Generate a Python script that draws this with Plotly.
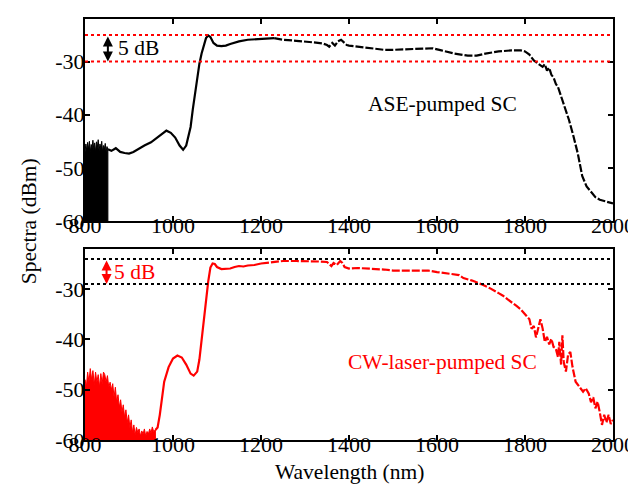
import plotly.graph_objects as go

# ---------------- data ----------------
# ASE-pumped SC: noisy low-wavelength region (upper envelope, filled down to floor)
ase_noise_wl = [800, 802, 804, 806, 808, 810, 812, 814, 816, 818, 820, 822, 824, 826, 828,
                830, 832, 834, 836, 838, 840, 842, 844, 846, 848, 850, 852]
ase_noise_db = [-47.0, -45.5, -46.8, -45.2, -46.5, -45.0, -47.0, -45.6, -46.2, -44.8, -46.6,
                -45.3, -47.0, -45.1, -46.2, -44.7, -46.8, -45.5, -46.3, -45.0, -47.0, -45.8,
                -46.5, -45.4, -46.9, -46.0, -46.6]

ase_wl = [852, 860, 870, 880, 890, 900, 910, 920, 935, 950, 965, 975, 985, 995, 1005, 1015,
          1023, 1030, 1040, 1045, 1050, 1055, 1060, 1065, 1070, 1075, 1080, 1085, 1092, 1100,
          1110, 1120, 1130, 1150, 1170, 1200, 1220, 1230, 1250, 1280, 1300, 1320, 1340, 1350,
          1355, 1362, 1368, 1375, 1382, 1388, 1395, 1400, 1420, 1450, 1480, 1500, 1530, 1560,
          1590, 1610, 1640, 1670, 1690, 1710, 1740, 1770, 1790, 1800, 1810, 1820, 1830, 1840,
          1845, 1850, 1855, 1860, 1865, 1870, 1875, 1880, 1890, 1900, 1910, 1920, 1930, 1940,
          1950, 1960, 1970, 1985, 2000]
ase_db = [-46.5, -46.8, -46.3, -47.0, -47.2, -47.3, -47.0, -46.5, -45.8, -45.2, -44.2, -43.5,
          -43.0, -43.4, -44.3, -45.8, -46.6, -45.8, -42.3, -39.0, -36.0, -33.0, -30.4, -28.5,
          -27.0, -25.6, -25.1, -25.4, -26.5, -27.0, -27.1, -27.0, -26.7, -26.2, -25.9, -25.7,
          -25.7, -25.6, -25.9, -26.1, -26.2, -26.4, -26.6, -26.9, -27.2, -26.5, -27.0, -26.2,
          -25.9, -26.4, -26.9, -27.0, -27.2, -27.6, -27.8, -27.8, -27.7, -27.6, -27.5, -27.9,
          -28.5, -28.9, -28.9, -28.5, -28.1, -27.9, -27.9, -28.1, -28.7, -29.8, -30.4, -31.0,
          -30.5, -31.7, -31.2, -32.5, -33.0, -34.2, -34.8, -36.0, -38.5, -41.0, -44.0, -47.3,
          -51.5, -53.5, -54.5, -55.5, -56.0, -56.4, -56.7]

# CW-laser-pumped SC
cw_noise_wl = [800, 803, 806, 809, 812, 815, 818, 821, 824, 827, 830, 833, 836, 839, 842, 845,
               848, 851, 854, 857, 860, 863, 866, 869, 872, 875, 878, 881, 884, 887, 890, 893,
               896, 899, 902, 905, 908, 911, 914, 917, 920, 923, 926, 929, 932, 935, 938, 941,
               944, 947, 950, 953, 956, 960]
cw_noise_db = [-48.0, -49.5, -46.5, -48.5, -45.8, -48.0, -46.2, -49.0, -46.5, -48.5, -47.0,
               -49.5, -46.8, -48.8, -46.5, -47.0, -48.5, -47.2, -49.5, -48.5, -50.0, -48.8,
               -51.5, -49.5, -52.5, -51.0, -53.5, -52.0, -54.5, -53.0, -55.5, -54.0, -56.5,
               -55.0, -57.5, -56.0, -58.5, -57.0, -59.0, -57.5, -58.5, -57.8, -59.2, -58.2,
               -58.8, -57.8, -59.2, -58.3, -58.8, -57.8, -58.6, -57.4, -58.3, -58.0]

cw_wl = [960, 965, 970, 975, 980, 990, 1000, 1010, 1020, 1030, 1040, 1047, 1055, 1060, 1065,
         1070, 1075, 1080, 1085, 1090, 1095, 1100, 1110, 1120, 1130, 1140, 1150, 1160, 1170,
         1185, 1200, 1220, 1250, 1280, 1300, 1330, 1350, 1360, 1365, 1372, 1380, 1385, 1390,
         1400, 1420, 1450, 1480, 1500, 1530, 1560, 1580, 1600, 1620, 1640, 1650, 1660, 1680,
         1700, 1720, 1740, 1750, 1760, 1770, 1780, 1790, 1800, 1810, 1815, 1820, 1825, 1830,
         1835, 1840, 1845, 1850, 1855, 1860, 1865, 1870, 1875, 1878, 1882, 1885, 1888, 1893,
         1898, 1903, 1908, 1915, 1925, 1932, 1938, 1945, 1950, 1955, 1960, 1965, 1970, 1975,
         1980, 1985, 1990, 1995, 2000]
cw_db = [-58.0, -57.5, -55.0, -51.5, -48.4, -45.5, -43.8, -43.2, -43.6, -45.0, -46.8, -47.2,
         -46.4, -44.0, -39.9, -36.0, -32.0, -28.5, -25.7, -24.9, -25.0, -25.6, -26.0, -26.0,
         -25.9, -25.6, -25.4, -25.5, -25.3, -25.2, -24.9, -24.7, -24.4, -24.4, -24.4, -24.5,
         -24.6, -25.4, -24.8, -25.2, -24.4, -24.8, -25.6, -25.9, -25.8, -25.9, -26.1, -26.3,
         -26.3, -26.4, -26.3, -26.6, -26.9, -27.1, -27.2, -27.8, -28.3, -29.0, -29.8, -30.8,
         -31.3, -32.0, -32.6, -33.3, -34.0, -35.0, -36.0, -37.9, -37.3, -39.6, -37.5, -36.0,
         -37.8, -40.5, -39.5, -41.0, -39.9, -41.5, -41.8, -43.5, -40.5, -45.0, -39.2, -44.5,
         -46.4, -43.0, -42.5, -45.5, -48.4, -49.5, -50.4, -49.7, -50.8, -52.5, -51.5, -53.7,
         -52.4, -54.5, -57.0, -55.0, -56.5, -55.0, -56.8, -56.0]

ase_ref_levels = [-25, -30]
cw_ref_levels = [-24, -29]
x_ticks = [800, 1000, 1200, 1400, 1600, 1800, 2000]
y_ticks = [-60, -50, -40, -30]
x_ticktext = [str(v) for v in x_ticks]
y_ticktext = [str(v) for v in y_ticks]  # ASCII hyphen like the original

# ---------------- style ----------------
FONT = "Liberation Serif"
RED = "#ff0000"
BLACK = "#000000"
ase_dash_from = 1230
cw_dash_from = 1200
Y_RANGE = [-60, -22]
X_RANGE = [800, 2000]
TICK_SIZE = 22
TEXT_SIZE = 21.5


def split(wl, db, thr):
    a = [(w, d) for w, d in zip(wl, db) if w <= thr]
    b = [(w, d) for w, d in zip(wl, db) if w >= a[-1][0]]
    return ([p[0] for p in a], [p[1] for p in a]), ([p[0] for p in b], [p[1] for p in b])


fig = go.Figure()


def add_panel(noise_wl, noise_db, wl, db, thr, color, xa, ya):
    fig.add_trace(go.Scatter(
        x=[noise_wl[0]] + noise_wl + [noise_wl[-1]],
        y=[Y_RANGE[0]] + noise_db + [Y_RANGE[0]],
        fill="toself", fillcolor=color, mode="lines",
        line=dict(color=color, width=1), xaxis=xa, yaxis=ya, showlegend=False,
        hoverinfo="skip"))
    (s_x, s_y), (d_x, d_y) = split(wl, db, thr)
    fig.add_trace(go.Scatter(x=s_x, y=s_y, mode="lines",
                             line=dict(color=color, width=2.2),
                             xaxis=xa, yaxis=ya, showlegend=False))
    fig.add_trace(go.Scatter(x=d_x, y=d_y, mode="lines",
                             line=dict(color=color, width=2.2, dash="8px,2px"),
                             xaxis=xa, yaxis=ya, showlegend=False))


add_panel(ase_noise_wl, ase_noise_db, ase_wl, ase_db, ase_dash_from, BLACK, "x", "y")
add_panel(cw_noise_wl, cw_noise_db, cw_wl, cw_db, cw_dash_from, RED, "x2", "y2")

# dotted reference lines
for lvl in ase_ref_levels:
    fig.add_shape(type="line", xref="x", yref="y", x0=X_RANGE[0], x1=X_RANGE[1],
                  y0=lvl, y1=lvl, line=dict(color=RED, width=2, dash="dot"))
for lvl in cw_ref_levels:
    fig.add_shape(type="line", xref="x2", yref="y2", x0=X_RANGE[0], x1=X_RANGE[1],
                  y0=lvl, y1=lvl, line=dict(color=BLACK, width=2, dash="dot"))


# double arrows + "5 dB"
def add_arrow(xa, ya, xpos, levels, color, text_x, text_y):
    fig.add_annotation(x=xpos, y=levels[1], ax=xpos, ay=levels[0], xref=xa, yref=ya,
                       axref=xa, ayref=ya, showarrow=True, arrowhead=2, arrowside="end+start",
                       arrowsize=1.0, arrowwidth=2, arrowcolor=color, text="")
    fig.add_annotation(x=text_x, y=text_y, xref=xa, yref=ya, text="5 dB", showarrow=False,
                       font=dict(family=FONT, size=TEXT_SIZE, color=color))


add_arrow("x", "y", 852, ase_ref_levels, BLACK, 921, -27.4)
add_arrow("x2", "y2", 849, cw_ref_levels, RED, 912, -26.6)

fig.add_annotation(x=1613, y=-37.9, xref="x", yref="y", text="ASE-pumped SC",
                   showarrow=False, font=dict(family=FONT, size=TEXT_SIZE, color=BLACK))
fig.add_annotation(x=1613, y=-44.4, xref="x2", yref="y2", text="CW-laser-pumped SC",
                   showarrow=False, font=dict(family=FONT, size=TEXT_SIZE, color=RED))

# axis titles
fig.add_annotation(x=-0.1056, y=0.52, xref="paper", yref="paper", text="Spectra (dBm)",
                   textangle=-90, showarrow=False, xanchor="center", yanchor="middle",
                   font=dict(family=FONT, size=TEXT_SIZE, color=BLACK))
fig.add_annotation(x=0.5, y=-0.075, xref="paper", yref="paper", text="Wavelength (nm)",
                   showarrow=False, xanchor="center", yanchor="middle",
                   font=dict(family=FONT, size=TEXT_SIZE, color=BLACK))

axis_common = dict(showline=True, linecolor=BLACK, linewidth=2, mirror="ticks",
                   ticks="inside", ticklen=5, tickwidth=1.5, tickcolor=BLACK,
                   showgrid=False, zeroline=False, ticklabeloverflow="allow",
                   tickfont=dict(family=FONT, size=TICK_SIZE, color=BLACK))
x_extra = dict(ticklabelstandoff=-16)
y_extra = dict(ticklabelstandoff=-6)

fig.update_layout(
    width=636, height=484,
    paper_bgcolor="white", plot_bgcolor="white",
    margin=dict(l=77, r=19, t=9, b=52),
    showlegend=False,
    font=dict(family=FONT, color=BLACK),
    xaxis=dict(domain=[0, 1], range=X_RANGE, tickvals=x_ticks, ticktext=x_ticktext,
               anchor="y", **axis_common, **x_extra),
    yaxis=dict(domain=[0.5201, 1], range=Y_RANGE, tickvals=y_ticks, ticktext=y_ticktext,
               anchor="x", **axis_common, **y_extra),
    xaxis2=dict(domain=[0, 1], range=X_RANGE, tickvals=x_ticks, ticktext=x_ticktext,
                anchor="y2", **axis_common, **x_extra),
    yaxis2=dict(domain=[0, 0.4539], range=Y_RANGE, tickvals=y_ticks, ticktext=y_ticktext,
                anchor="x2", **axis_common, **y_extra),
)

fig.write_html("out.html")
